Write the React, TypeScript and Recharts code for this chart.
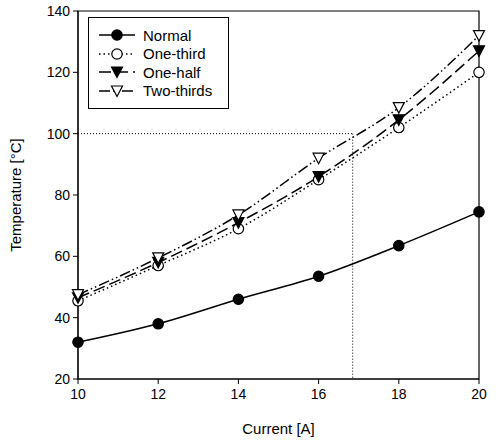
import React from 'react';
import { LineChart, Line, XAxis, YAxis, ReferenceLine, ReferenceArea, Label } from 'recharts';

const currents = [10, 12, 14, 16, 18, 20];
const normal = [32, 38, 46, 53.5, 63.5, 74.5];
const oneThird = [45.5, 57, 69, 85, 102, 120];
const oneHalf = [46.5, 58, 71, 86, 104.5, 127];
const twoThirds = [47.5, 59.5, 73.5, 92, 108.5, 132];
const xTicks = [10, 12, 14, 16, 18, 20];
const yTicks = [20, 40, 60, 80, 100, 120, 140];
const markX = 16.85;
const markY = 100;

const data = currents.map((c, i) => ({
  current: c,
  normal: normal[i],
  oneThird: oneThird[i],
  oneHalf: oneHalf[i],
  twoThirds: twoThirds[i],
}));

const font = 'Arial, "Liberation Sans", sans-serif';

type Kind = 'fillCircle' | 'openCircle' | 'fillTri' | 'openTri';

const Marker = ({ cx, cy, kind }: { cx: number; cy: number; kind: Kind }) => {
  if (kind === 'fillCircle' || kind === 'openCircle') {
    return <circle cx={cx} cy={cy} r={5.2} fill={kind === 'fillCircle' ? '#000' : '#fff'} stroke="#000" strokeWidth={1.2} />;
  }
  const pts = `${cx - 5.5},${cy - 5} ${cx + 5.5},${cy - 5} ${cx},${cy + 5.5}`;
  return <polygon points={pts} fill={kind === 'fillTri' ? '#000' : '#fff'} stroke="#000" strokeWidth={1.2} />;
};

const dotFor = (kind: Kind) => (p: any) => <Marker key={`${kind}-${p.index}`} cx={p.cx} cy={p.cy} kind={kind} />;

const series = [
  { key: 'normal', name: 'Normal', dash: undefined, kind: 'fillCircle' as Kind },
  { key: 'oneThird', name: 'One-third', dash: '1.5 3', kind: 'openCircle' as Kind },
  { key: 'oneHalf', name: 'One-half', dash: '12 5', kind: 'fillTri' as Kind },
  { key: 'twoThirds', name: 'Two-thirds', dash: '11 3 1.5 3 1.5 3', kind: 'openTri' as Kind },
];

// legend box drawn on top of the plot, like the original figure
const LegendBox = () => (
  <div
    style={{
      position: 'absolute',
      left: 88,
      top: 17,
      width: 141,
      height: 92,
      boxSizing: 'border-box',
      border: '1.2px solid #000',
      background: '#fff',
      padding: '8px 0 0 0',
      fontFamily: font,
      fontSize: 15,
      color: '#000',
    }}
  >
    {series.map((s) => (
      <div key={s.key} style={{ display: 'flex', alignItems: 'center', height: 18.5 }}>
        <svg width={46} height={14} style={{ marginLeft: 8 }}>
          <line x1={2} y1={7} x2={38} y2={7} stroke="#000" strokeWidth={1.5} strokeDasharray={s.dash} />
          <Marker cx={20} cy={7} kind={s.kind} />
        </svg>
        <span>{s.name}</span>
      </div>
    ))}
  </div>
);

const tickStyle = { fill: '#000', fontSize: 14, fontFamily: font };

export default function App() {
  return (
    <div style={{ position: 'absolute', left: 0, top: 0, width: 496, height: 440, background: '#fff' }}>
      <LineChart width={496} height={440} data={data} margin={{ top: 11, right: 17, bottom: 0, left: 0 }}>
        <XAxis
          dataKey="current"
          type="number"
          domain={[10, 20]}
          ticks={xTicks}
          tick={tickStyle}
          tickSize={5}
          tickMargin={5}
          stroke="#000"
          height={61}
        >
          <Label value="Current [A]" position="insideBottom" offset={6} style={{ fill: '#000', fontSize: 15, fontFamily: font }} />
        </XAxis>
        <YAxis
          type="number"
          domain={[20, 140]}
          ticks={yTicks}
          tick={tickStyle}
          tickSize={5}
          tickMargin={3}
          stroke="#000"
          width={78}
        >
          <Label value="Temperature [°C]" angle={-90} position="insideLeft" offset={16} style={{ fill: '#000', fontSize: 15, fontFamily: font, textAnchor: 'middle' }} />
        </YAxis>
        <ReferenceArea x1={10} x2={20} y1={20} y2={140} fill="none" stroke="#000" strokeWidth={1.2} ifOverflow="visible" />
        <ReferenceLine segment={[{ x: 10, y: markY }, { x: markX, y: markY }]} stroke="#000" strokeWidth={1} strokeDasharray="1 2" />
        <ReferenceLine segment={[{ x: markX, y: markY }, { x: markX, y: 20 }]} stroke="#000" strokeWidth={1} strokeDasharray="1 2" />
        {series.map((s) => (
          <Line
            key={s.key}
            type="monotone"
            dataKey={s.key}
            name={s.name}
            stroke="#000"
            strokeWidth={1.5}
            strokeDasharray={s.dash}
            dot={dotFor(s.kind)}
            activeDot={false}
            isAnimationActive={false}
          />
        ))}
      </LineChart>
      <LegendBox />
    </div>
  );
}
